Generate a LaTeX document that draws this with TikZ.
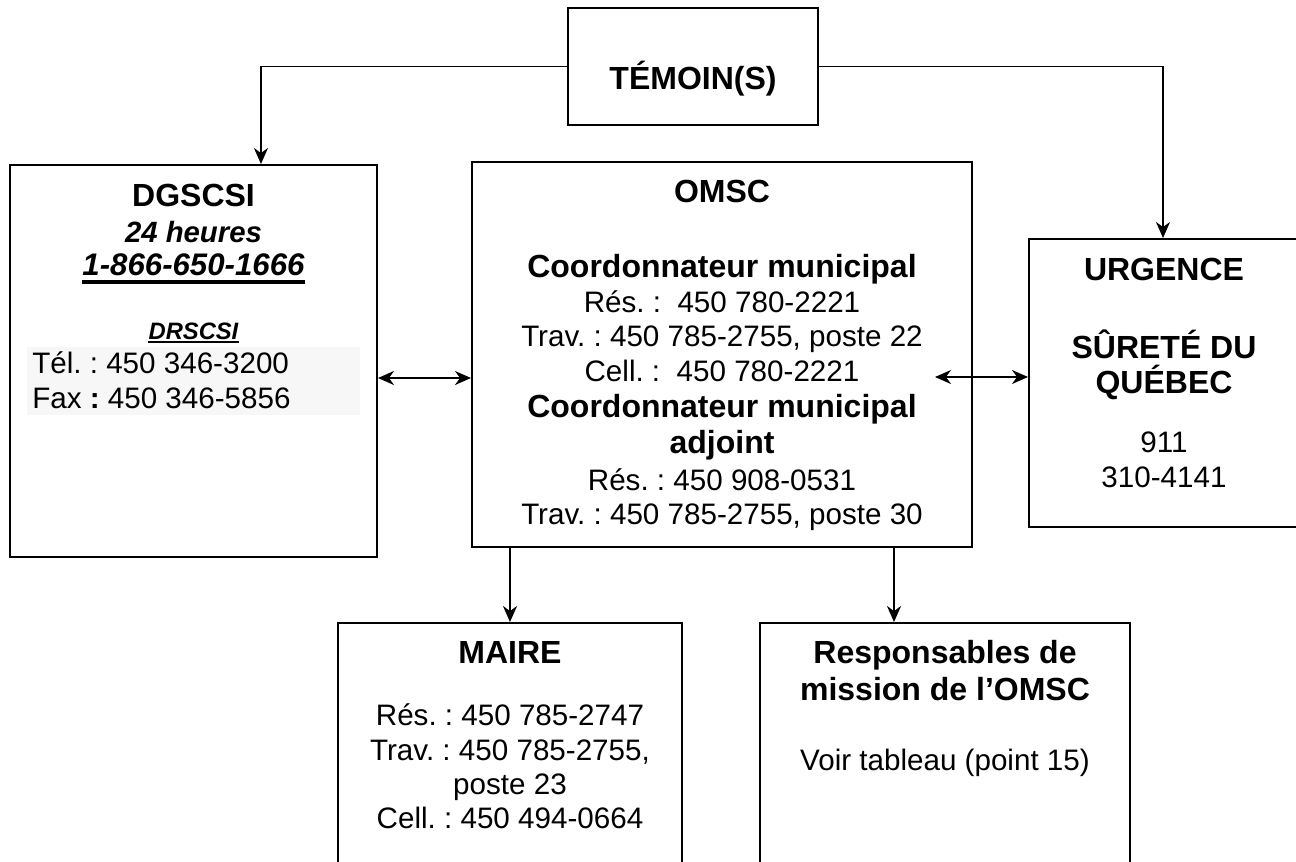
\documentclass[tikz,border=0pt]{standalone}
\usepackage{fontspec}
\setmainfont{Liberation Sans}
\usetikzlibrary{arrows.meta,calc}
\frenchspacing
\tikzset{
 box/.style={draw, line width=1.5pt, inner sep=0pt},
 sz/.style 2 args={minimum width=#1*0.75pt, minimum height=#2*0.75pt},
 conn/.style={line width=1.4pt},
 tip/.tip={Stealth[length=12pt,width=10.5pt,inset=3.8pt]},
 arr/.style={conn, -tip},
 darr/.style={conn, tip-tip},
 reg/.style={inner sep=0pt, anchor=base, font=\fontsize{22.2}{26}\selectfont},
 bld/.style={inner sep=0pt, anchor=base, font=\fontsize{24}{28}\selectfont\bfseries},
 bit/.style={inner sep=0pt, anchor=base, font=\fontsize{22.5}{27}\selectfont\bfseries\itshape},
}
\begin{document}
\begin{tikzpicture}[x=0.75pt,y=-0.75pt]
\frenchspacing
\useasboundingbox (0,0) rectangle (1296,861);
% boxes
\node[box, sz={250}{117}] (tem) at (693,66.5) {};
\node[box, sz={367}{392}] (dg) at (193.5,361) {};
\node[box, sz={500}{385}] (om) at (722,354.5) {};
\node[box, sz={270}{288}] (urg) at (1164,383) {};
\node[box, sz={344}{257}] (mai) at (510,751.5) {};
\node[box, sz={370}{257}] (res) at (945,751.5) {};
% connectors
\draw[arr] (tem.west) -| ([xshift=50.6pt]dg.north);
\draw[arr] (tem.east) -| ([xshift=-0.75pt]urg.north);
\draw[darr] ([yshift=-12.75pt]dg.east) -- ([yshift=-12.75pt]dg.east -| om.west);
\coordinate (rs) at (935,377);
\draw[darr] (rs) -- (rs -| urg.west);
\draw[arr] (mai.north |- om.south) -- (mai.north);
\draw[arr] ([xshift=-38.25pt]res.north |- om.south) -- ([xshift=-38.25pt]res.north);
% TEMOIN
\node[bld] (t0) at (693,89) {TÉMOIN(S)};
% DGSCSI
\fill[black!3] (27,347) rectangle (360,415);
\node[bld] (d1) at (193.5,206) {DGSCSI};
\node[bit, font=\fontsize{22}{26}\selectfont\bfseries\itshape] (d2) at (193.5,242) {24 heures};
\node[bit, font=\fontsize{23.4}{27}\selectfont\bfseries\itshape] (d3) at (193.5,275) {1-866-650-1666};
\draw[line width=2.4pt] ([yshift=-5.2pt]d3.base west) -- ([yshift=-5.2pt]d3.base east);
\node[bit, font=\fontsize{17.8}{21}\selectfont\bfseries\itshape] (d4) at (193.5,339) {DRSCSI};
\draw[line width=1.5pt] ([yshift=-2.6pt]d4.base west) -- ([yshift=-2.6pt]d4.base east);
\node[reg, anchor=base west] (d5) at (32,373) {Tél. : 450 346-3200};
\node[reg, anchor=base west] (d6) at (32,408) {Fax \textbf{:} 450 346-5856};
% OMSC
\node[bld] (o1) at (722,202) {OMSC};
\node[bld] (o2) at (722,277) {Coordonnateur municipal};
\node[reg] (o3) at (722,312) {Rés. :\ \ 450 780-2221};
\node[reg] (o4) at (722,346) {Trav. : 450 785-2755, poste 22};
\node[reg] (o5) at (722,381) {Cell. :\ \ 450 780-2221};
\node[bld] (o6) at (722,417) {Coordonnateur municipal};
\node[bld] (o7) at (722,453) {adjoint};
\node[reg] (o8) at (722,490) {Rés. : 450 908-0531};
\node[reg] (o9) at (722,524) {Trav. : 450 785-2755, poste 30};
% URGENCE
\node[bld] (u1) at (1164,280) {URGENCE};
\node[bld] (u2) at (1164,358) {SÛRETÉ DU};
\node[bld] (u3) at (1164,393) {QUÉBEC};
\node[reg] (u4) at (1164,452) {911};
\node[reg] (u5) at (1164,487) {310-4141};
% MAIRE
\node[bld] (m1) at (510,663) {MAIRE};
\node[reg] (m2) at (510,725) {Rés. : 450 785-2747};
\node[reg] (m3) at (510,760) {Trav. : 450 785-2755,};
\node[reg] (m4) at (510,794) {poste 23};
\node[reg] (m5) at (510,828) {Cell. : 450 494-0664};
% Responsables
\node[bld] (r1) at (945,663) {Responsables de};
\node[bld] (r2) at (945,700) {mission de l’OMSC};
\node[reg] (r3) at (945,770) {Voir tableau (point 15)};
\end{tikzpicture}
\end{document}
